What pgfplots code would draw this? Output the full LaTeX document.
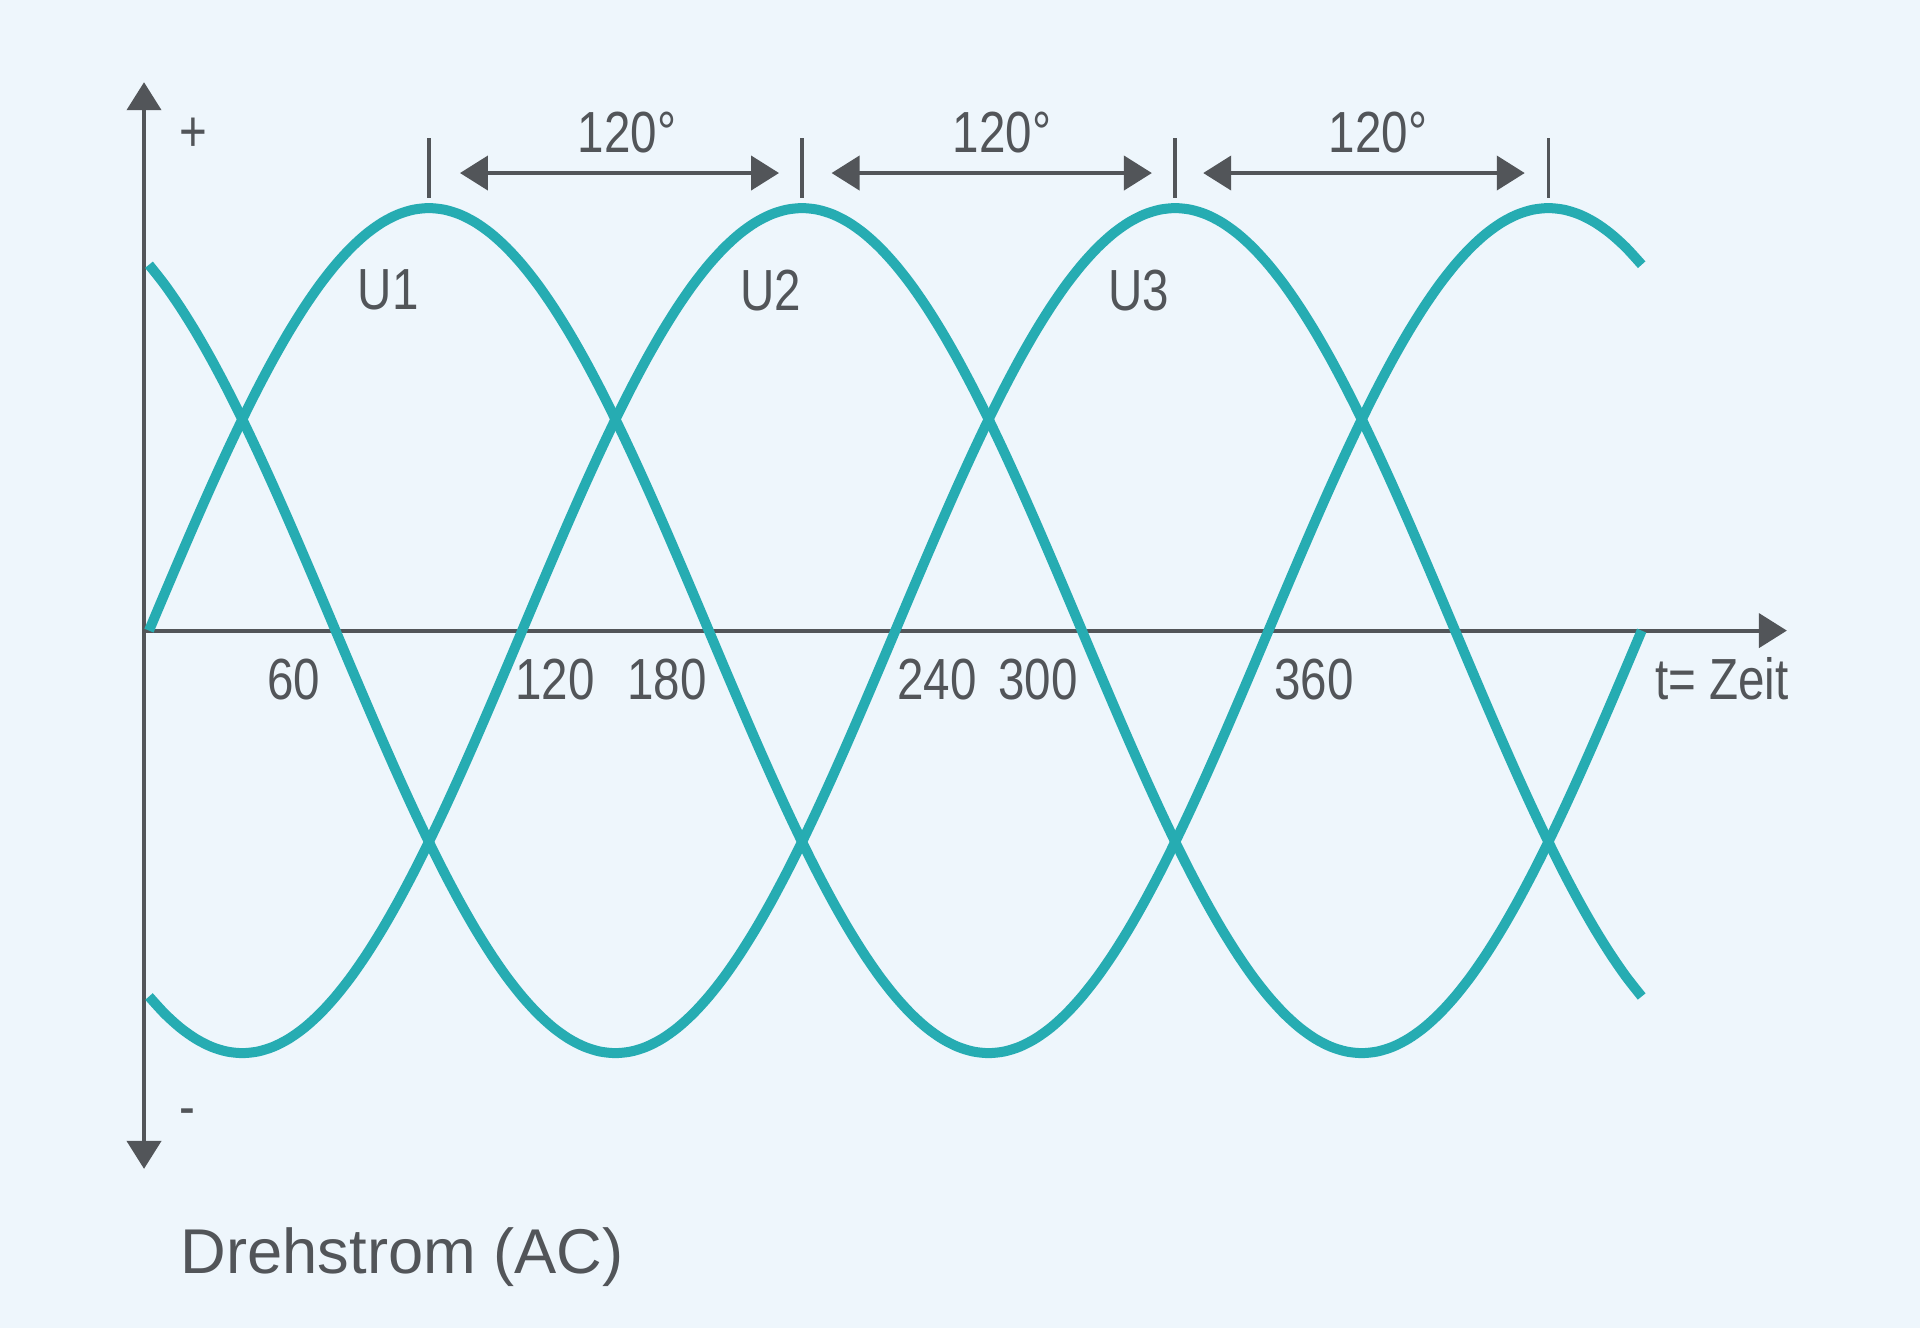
\documentclass[border=0pt]{standalone}
\usepackage{pgfplots}
\pgfplotsset{compat=1.18}
\usepackage{pgfplotstable}
\usetikzlibrary{arrows.meta}
\usepackage{fontspec}
\setmainfont{Liberation Sans}
\newfontfamily\cond[FakeStretch=0.82]{Liberation Sans}
\definecolor{bg}{RGB}{238,246,252}
\definecolor{wave}{RGB}{38,172,178}
\definecolor{ink}{RGB}{82,85,89}

\pgfplotstableread{
d u1 u2 u3
0 0 -0.8660 0.8660
5 0.0872 -0.9063 0.8192
10 0.1736 -0.9397 0.7660
15 0.2588 -0.9659 0.7071
20 0.3420 -0.9848 0.6428
25 0.4226 -0.9962 0.5736
30 0.5 -1 0.5
35 0.5736 -0.9962 0.4226
40 0.6428 -0.9848 0.3420
45 0.7071 -0.9659 0.2588
50 0.7660 -0.9397 0.1736
55 0.8192 -0.9063 0.0872
60 0.8660 -0.8660 0
65 0.9063 -0.8192 -0.0872
70 0.9397 -0.7660 -0.1736
75 0.9659 -0.7071 -0.2588
80 0.9848 -0.6428 -0.3420
85 0.9962 -0.5736 -0.4226
90 1 -0.5 -0.5
95 0.9962 -0.4226 -0.5736
100 0.9848 -0.3420 -0.6428
105 0.9659 -0.2588 -0.7071
110 0.9397 -0.1736 -0.7660
115 0.9063 -0.0872 -0.8192
120 0.8660 0 -0.8660
125 0.8192 0.0872 -0.9063
130 0.7660 0.1736 -0.9397
135 0.7071 0.2588 -0.9659
140 0.6428 0.3420 -0.9848
145 0.5736 0.4226 -0.9962
150 0.5 0.5 -1
155 0.4226 0.5736 -0.9962
160 0.3420 0.6428 -0.9848
165 0.2588 0.7071 -0.9659
170 0.1736 0.7660 -0.9397
175 0.0872 0.8192 -0.9063
180 0 0.8660 -0.8660
185 -0.0872 0.9063 -0.8192
190 -0.1736 0.9397 -0.7660
195 -0.2588 0.9659 -0.7071
200 -0.3420 0.9848 -0.6428
205 -0.4226 0.9962 -0.5736
210 -0.5 1 -0.5
215 -0.5736 0.9962 -0.4226
220 -0.6428 0.9848 -0.3420
225 -0.7071 0.9659 -0.2588
230 -0.7660 0.9397 -0.1736
235 -0.8192 0.9063 -0.0872
240 -0.8660 0.8660 0
245 -0.9063 0.8192 0.0872
250 -0.9397 0.7660 0.1736
255 -0.9659 0.7071 0.2588
260 -0.9848 0.6428 0.3420
265 -0.9962 0.5736 0.4226
270 -1 0.5 0.5
275 -0.9962 0.4226 0.5736
280 -0.9848 0.3420 0.6428
285 -0.9659 0.2588 0.7071
290 -0.9397 0.1736 0.7660
295 -0.9063 0.0872 0.8192
300 -0.8660 0 0.8660
305 -0.8192 -0.0872 0.9063
310 -0.7660 -0.1736 0.9397
315 -0.7071 -0.2588 0.9659
320 -0.6428 -0.3420 0.9848
325 -0.5736 -0.4226 0.9962
330 -0.5 -0.5 1
335 -0.4226 -0.5736 0.9962
340 -0.3420 -0.6428 0.9848
345 -0.2588 -0.7071 0.9659
350 -0.1736 -0.7660 0.9397
355 -0.0872 -0.8192 0.9063
360 0 -0.8660 0.8660
365 0.0872 -0.9063 0.8192
370 0.1736 -0.9397 0.7660
375 0.2588 -0.9659 0.7071
380 0.3420 -0.9848 0.6428
385 0.4226 -0.9962 0.5736
390 0.5 -1 0.5
395 0.5736 -0.9962 0.4226
400 0.6428 -0.9848 0.3420
405 0.7071 -0.9659 0.2588
410 0.7660 -0.9397 0.1736
415 0.8192 -0.9063 0.0872
420 0.8660 -0.8660 0
425 0.9063 -0.8192 -0.0872
430 0.9397 -0.7660 -0.1736
435 0.9659 -0.7071 -0.2588
440 0.9848 -0.6428 -0.3420
445 0.9962 -0.5736 -0.4226
450 1 -0.5 -0.5
455 0.9962 -0.4226 -0.5736
460 0.9848 -0.3420 -0.6428
465 0.9659 -0.2588 -0.7071
470 0.9397 -0.1736 -0.7660
475 0.9063 -0.0872 -0.8192
480 0.8660 0 -0.8660
}\phases

\begin{document}
\begin{tikzpicture}
\useasboundingbox (0,0) rectangle (19.2,-13.28);
\fill[bg] (0,0) rectangle (19.2,-13.28);
\begin{axis}[
  at={(1.49cm,-6.306cm)}, anchor=origin,
  x=0.0311cm, y=4.225cm,
  xmin=-20, xmax=540, ymin=-1.4, ymax=1.4,
  hide axis, clip=false,
]
% axes
\draw[ink, line width=0.042cm, {Triangle[length=0.28cm,width=0.34cm]}-{Triangle[length=0.28cm,width=0.34cm]}]
  (axis cs:-1.6,-1.274) -- (axis cs:-1.6,1.298);
\draw[ink, line width=0.042cm, -{Triangle[length=0.28cm,width=0.34cm]}]
  (axis cs:-1.6,0) -- (axis cs:526.7,0);
% curves
\addplot[wave, line width=0.1cm, smooth, line join=round, no markers] table[x=d,y=u1] {\phases};
\addplot[wave, line width=0.1cm, smooth, line join=round, no markers] table[x=d,y=u2] {\phases};
\addplot[wave, line width=0.1cm, smooth, line join=round, no markers] table[x=d,y=u3] {\phases};
% peak ticks
\draw[ink, line width=0.035cm] (axis cs:90,1.024) -- (axis cs:90,1.166);
\draw[ink, line width=0.035cm] (axis cs:210,1.024) -- (axis cs:210,1.166);
\draw[ink, line width=0.035cm] (axis cs:330,1.024) -- (axis cs:330,1.166);
\draw[ink, line width=0.035cm] (axis cs:450,1.024) -- (axis cs:450,1.166);
% 120 degree arrows
\draw[ink, line width=0.042cm, {Triangle[length=0.28cm,width=0.34cm]}-{Triangle[length=0.28cm,width=0.34cm]}]
  (axis cs:100,1.083) -- (axis cs:202.6,1.083);
\draw[ink, line width=0.042cm, {Triangle[length=0.28cm,width=0.34cm]}-{Triangle[length=0.28cm,width=0.34cm]}]
  (axis cs:219.5,1.083) -- (axis cs:322.5,1.083);
\draw[ink, line width=0.042cm, {Triangle[length=0.28cm,width=0.34cm]}-{Triangle[length=0.28cm,width=0.34cm]}]
  (axis cs:339,1.083) -- (axis cs:442.4,1.083);
% labels
\begin{scope}[every node/.style={text=ink, font=\cond\fontsize{16.5}{18}\selectfont, inner sep=0pt}]
\node at (axis cs:153.7,1.18) {120°};
\node at (axis cs:274.3,1.18) {120°};
\node at (axis cs:395.2,1.18) {120°};
\node at (axis cs:76.9,0.806) {U1};
\node at (axis cs:200,0.806) {U2};
\node at (axis cs:318.3,0.806) {U3};
\node at (axis cs:46.6,-0.115) {60};
\node at (axis cs:130.5,-0.115) {120};
\node at (axis cs:166.6,-0.115) {180};
\node at (axis cs:253.4,-0.115) {240};
\node at (axis cs:285.9,-0.115) {300};
\node at (axis cs:374.6,-0.115) {360};
\node at (axis cs:505.8,-0.113) {t= Zeit};
\node at (axis cs:14.2,1.173) {+};
\node at (axis cs:12.2,-1.152) {-};
\end{scope}
\end{axis}
\node[anchor=base west, inner sep=0pt, text=ink, font=\fontsize{18}{20}\selectfont] at (1.80cm,-12.73cm) {Drehstrom (AC)};
\end{tikzpicture}
\end{document}
